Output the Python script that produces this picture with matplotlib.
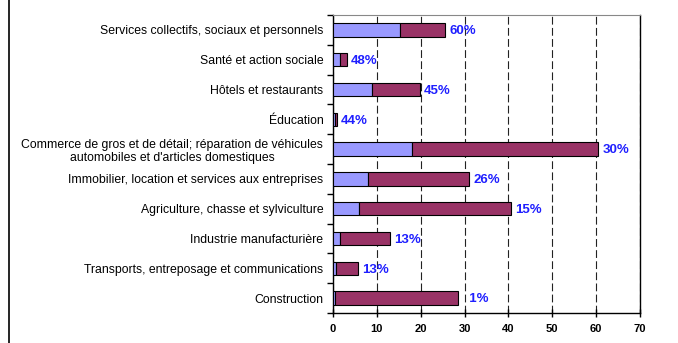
import matplotlib
matplotlib.use("Agg")
import matplotlib.pyplot as plt
from matplotlib.lines import Line2D

categories = [
    "Services collectifs, sociaux et personnels",
    "Santé et action sociale",
    "Hôtels et restaurants",
    "Éducation",
    "Commerce de gros et de détail; réparation de véhicules\nautomobiles et d'articles domestiques",
    "Immobilier, location et services aux entreprises",
    "Agriculture, chasse et sylviculture",
    "Industrie manufacturière",
    "Transports, entreposage et communications",
    "Construction",
]
blue_vals = [15.2, 1.55, 8.9, 0.4, 18.1, 8.0, 5.9, 1.6, 0.7, 0.4]
red_vals = [10.3, 1.65, 10.9, 0.5, 42.4, 23.0, 34.6, 11.4, 5.0, 28.0]
pct_labels = ["60%", "48%", "45%", "44%", "30%", "26%", "15%", "13%", "13%", "  1%"]
xticks = [0, 10, 20, 30, 40, 50, 60, 70]

plt.rcParams['font.family'] = ['Liberation Sans', 'DejaVu Sans']

W, H = 678, 343
fig = plt.figure(figsize=(W / 100, H / 100), dpi=100)
ax = fig.add_axes([333 / W, 1 - 313 / H, (640 - 333) / W, (313 - 15) / H])

n = len(categories)
ypos = list(range(n))
ax.barh(ypos, blue_vals, height=0.45, color="#9999FF", edgecolor="black", linewidth=0.8, zorder=3)
ax.barh(ypos, red_vals, left=blue_vals, height=0.45, color="#993366", edgecolor="black", linewidth=0.8, zorder=3)

for i in range(n):
    total = blue_vals[i] + red_vals[i]
    ax.annotate(pct_labels[i], xy=(total, ypos[i]), xytext=(3, -1), textcoords="offset points",
                va="center", ha="left", color="#1F1FFF", fontsize=9.5, fontweight="bold", zorder=4)

ax.set_xlim(0, 70)
ax.set_ylim(n - 0.5, -0.5)
ax.set_xticks(xticks)
ax.set_xticklabels([str(v) for v in xticks], fontsize=8, fontweight="bold")
ax.tick_params(axis="x", direction="inout", length=6, width=1, pad=5)

# y ticks at category boundaries, labels at centers
ax.set_yticks([i - 0.5 for i in range(n + 1)])
ax.set_yticklabels([])
ax.set_yticks(ypos, minor=True)
ax.set_yticklabels(categories, minor=True, fontsize=8.8)
ax.tick_params(axis="y", which="major", direction="out", length=4, width=1)
ax.tick_params(axis="y", which="minor", length=0, pad=7)
for lbl in ax.get_yticklabels(minor=True):
    lbl.set_multialignment("center")

ax.xaxis.grid(True, linestyle=(0, (7, 3)), color="#222222", linewidth=0.8, zorder=0)
ax.set_axisbelow(True)

ax.spines["top"].set_color("#888888")
for s in ["left", "bottom", "right"]:
    ax.spines[s].set_color("black")
    ax.spines[s].set_linewidth(1)

fig.add_artist(Line2D([8.5 / W, 8.5 / W], [0, 1], color="black", linewidth=1.2, transform=fig.transFigure))

fig.savefig("out.png", dpi=100)
